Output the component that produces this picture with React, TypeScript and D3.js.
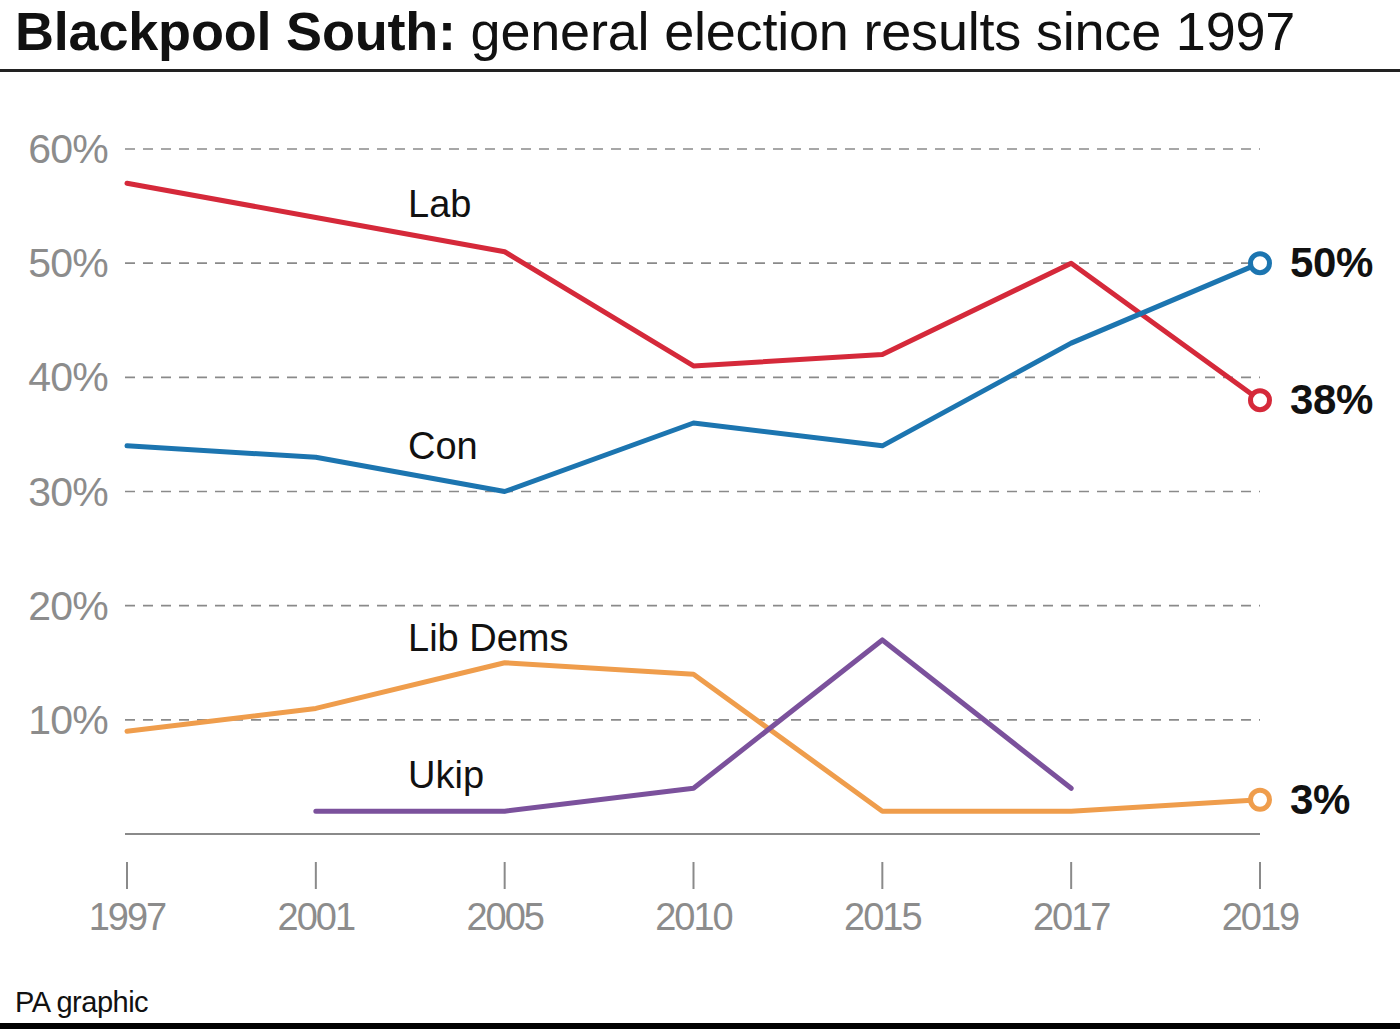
import React from "react";
import * as d3 from "d3";

const years = ["1997", "2001", "2005", "2010", "2015", "2017", "2019"];
const lab = [57, 54, 51, 41, 42, 50, 38];
const con = [34, 33, 30, 36, 34, 43, 50];
const libDems = [9, 11, 15, 14, 2, 2, 3];
const ukip: (number | null)[] = [null, 2, 2, 4, 17, 4, null];
const yTicks = [10, 20, 30, 40, 50, 60];

const series = [
  { name: "Lab", values: lab, color: "#d5293a", label: "Lab", lx: 408, ly: 217, end: "38%" },
  { name: "Con", values: con, color: "#1c75b0", label: "Con", lx: 408, ly: 459, end: "50%" },
  { name: "Lib Dems", values: libDems, color: "#ef9d4c", label: "Lib Dems", lx: 408, ly: 651, end: "3%" },
  { name: "Ukip", values: ukip, color: "#7b519c", label: "Ukip", lx: 408, ly: 788, end: null },
];

const W = 1400;
const H = 1029;
const FONT = "'Liberation Sans', Arial, Helvetica, sans-serif";

export default function App() {
  const x = d3.scalePoint<string>().domain(years).range([127, 1260]);
  const y = d3.scaleLinear().domain([0, 60]).range([834, 149]);
  const line = d3
    .line<number | null>()
    .defined((d) => d !== null)
    .x((_, i) => x(years[i]) as number)
    .y((d) => y(d as number));

  return (
    <svg width={W} height={H} style={{ position: "absolute", left: 0, top: 0, background: "#fff" }} fontFamily={FONT}>
      <rect x={0} y={0} width={W} height={H} fill="#fff" />
      <text x={15} y={50} fontSize={54} letterSpacing={-0.2} fill="#111">
        <tspan fontWeight="bold">Blackpool South:</tspan>
        <tspan> general election results since 1997</tspan>
      </text>
      <rect x={0} y={69} width={W} height={3} fill="#222" />

      {yTicks.map((t) => (
        <g key={t}>
          <line x1={125} x2={1260} y1={y(t)} y2={y(t)} stroke="#8a8a8a" strokeWidth={1.6} strokeDasharray="10 8" />
          <text x={108} y={y(t) + 14} textAnchor="end" fontSize={41} letterSpacing={-0.8} fill="#8c8c8c">
            {t}%
          </text>
        </g>
      ))}
      <line x1={125} x2={1260} y1={y(0)} y2={y(0)} stroke="#8a8a8a" strokeWidth={2} />

      {years.map((yr) => (
        <g key={yr}>
          <line x1={x(yr)} x2={x(yr)} y1={862} y2={889} stroke="#8a8a8a" strokeWidth={2} />
          <text x={x(yr)} y={930} textAnchor="middle" fontSize={38} letterSpacing={-2} fill="#8c8c8c">
            {yr}
          </text>
        </g>
      ))}

      {series.map((s) => (
        <g key={s.name}>
          <path d={line(s.values) || ""} fill="none" stroke={s.color} strokeWidth={5} strokeLinejoin="round" strokeLinecap="round" />
          <text x={s.lx} y={s.ly} fontSize={38} letterSpacing={0} fill="#111">
            {s.label}
          </text>
          {s.end && (
            <g>
              <circle cx={x("2019")} cy={y(s.values[6] as number)} r={9.5} fill="#fff" stroke={s.color} strokeWidth={5} />
              <text x={1290} y={y(s.values[6] as number) + 14} fontSize={42} fontWeight="bold" letterSpacing={-0.3} fill="#111">
                {s.end}
              </text>
            </g>
          )}
        </g>
      ))}

      <text x={15} y={1012} fontSize={29} letterSpacing={-0.5} fill="#111">
        PA graphic
      </text>
      <rect x={0} y={1023} width={W} height={6} fill="#000" />
    </svg>
  );
}
